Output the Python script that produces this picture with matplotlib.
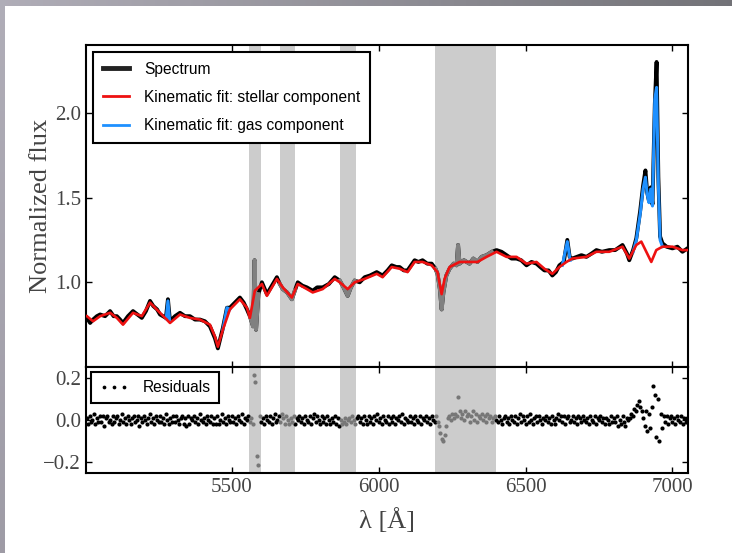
import numpy as np
import matplotlib.pyplot as plt
from matplotlib.lines import Line2D

plt.rcParams['font.family'] = 'Liberation Serif'
plt.rcParams['mathtext.fontset'] = 'stix'

# masked wavelength windows (sky lines, NaD, [OI])
mask_lo = [5557, 5663, 5867, 6193]
mask_hi = [5598, 5714, 5921, 6398]

# observed spectrum
spec_wave = [5006, 5017, 5027, 5040, 5051, 5068, 5085, 5097, 5108, 5119,
             5129, 5146, 5163, 5178, 5193, 5207, 5221, 5232, 5245, 5255,
             5275, 5282, 5289, 5306, 5323, 5340, 5357, 5374, 5391, 5408,
             5425, 5442, 5452, 5469, 5483, 5493, 5510, 5527, 5540, 5551,
             5561, 5572, 5577, 5582, 5590, 5602, 5619, 5636, 5653, 5663,
             5673, 5688, 5704, 5714, 5724, 5740, 5755, 5775, 5790, 5809,
             5830, 5850, 5867, 5880, 5894, 5905, 5918, 5935, 5952, 5970,
             5993, 6013, 6030, 6044, 6060, 6071, 6085, 6098, 6110, 6122,
             6135, 6149, 6165, 6180, 6193, 6200, 6208, 6214, 6220, 6230,
             6241, 6255, 6265, 6270, 6275, 6290, 6309, 6322, 6336, 6350,
             6367, 6385, 6401, 6418, 6435, 6452, 6469, 6485, 6503, 6520,
             6537, 6550, 6564, 6578, 6591, 6603, 6615, 6630, 6642, 6650,
             6659, 6675, 6690, 6707, 6725, 6741, 6760, 6785, 6805, 6830,
             6845, 6853, 6866, 6877, 6890, 6900, 6908, 6914, 6920, 6926,
             6932, 6940, 6946, 6952, 6958, 6966, 6980, 7000, 7017, 7034,
             7051]
spec_flux = [0.79, 0.76, 0.78, 0.80, 0.81, 0.80, 0.83, 0.80, 0.80, 0.78,
             0.76, 0.80, 0.83, 0.81, 0.79, 0.83, 0.89, 0.86, 0.84, 0.81,
             0.79, 0.90, 0.77, 0.80, 0.82, 0.80, 0.80, 0.78, 0.78, 0.77,
             0.74, 0.67, 0.61, 0.73, 0.85, 0.85, 0.88, 0.91, 0.88, 0.84,
             0.80, 0.74, 1.13, 0.72, 0.93, 1.00, 0.93, 0.98, 1.03, 0.99,
             0.96, 0.94, 0.90, 0.95, 1.00, 0.98, 0.97, 0.95, 0.97, 0.97,
             0.99, 1.03, 1.01, 0.97, 0.92, 0.97, 1.01, 1.00, 1.03, 1.04,
             1.06, 1.04, 1.07, 1.10, 1.09, 1.09, 1.07, 1.07, 1.10, 1.13,
             1.12, 1.13, 1.11, 1.11, 1.08, 1.05, 0.96, 0.84, 0.94, 1.04,
             1.08, 1.11, 1.10, 1.22, 1.11, 1.13, 1.11, 1.14, 1.12, 1.15,
             1.16, 1.18, 1.19, 1.18, 1.16, 1.14, 1.14, 1.13, 1.10, 1.12,
             1.11, 1.09, 1.07, 1.07, 1.04, 1.06, 1.10, 1.12, 1.25, 1.15,
             1.14, 1.15, 1.16, 1.15, 1.17, 1.19, 1.18, 1.19, 1.19, 1.22,
             1.17, 1.13, 1.19, 1.26, 1.42, 1.57, 1.66, 1.53, 1.48, 1.56,
             1.46, 2.05, 2.30, 1.62, 1.27, 1.23, 1.21, 1.20, 1.21, 1.18,
             1.20]

# stellar component of the fit
star_wave = [5006, 5027, 5051, 5085, 5108, 5129, 5163, 5193, 5221, 5255,
             5289, 5323, 5357, 5391, 5425, 5442, 5452, 5469, 5493, 5527,
             5551, 5561, 5578, 5602, 5619, 5653, 5673, 5704, 5724, 5755,
             5775, 5809, 5850, 5867, 5894, 5918, 5952, 5993, 6013, 6044,
             6071, 6098, 6122, 6149, 6180, 6200, 6214, 6224, 6241, 6275,
             6309, 6336, 6367, 6401, 6435, 6469, 6503, 6537, 6564, 6591,
             6615, 6639, 6659, 6707, 6741, 6785, 6830, 6853, 6877, 6894,
             6911, 6928, 6945, 6966, 7000, 7034, 7051]
star_flux = [0.80, 0.77, 0.80, 0.82, 0.79, 0.75, 0.82, 0.80, 0.88, 0.82,
             0.76, 0.81, 0.79, 0.78, 0.75, 0.68, 0.62, 0.72, 0.84, 0.90,
             0.85, 0.79, 0.95, 0.99, 0.92, 1.02, 0.97, 0.91, 0.99, 0.96,
             0.94, 0.96, 1.02, 1.00, 0.96, 1.00, 1.02, 1.05, 1.03, 1.09,
             1.08, 1.06, 1.12, 1.12, 1.10, 1.06, 0.93, 1.02, 1.09, 1.12,
             1.12, 1.12, 1.15, 1.18, 1.15, 1.15, 1.11, 1.12, 1.08, 1.05,
             1.09, 1.12, 1.14, 1.15, 1.18, 1.18, 1.21, 1.14, 1.22, 1.24,
             1.18, 1.12, 1.19, 1.21, 1.21, 1.19, 1.19]

# stellar + gas fit around the emission lines
gas_wave = [5276, 5282, 5288, np.nan,
            5469, 5483, 5493, np.nan,
            6625, 6642, 6652, np.nan,
            6866, 6877, 6890, 6900, 6908, 6914, 6920, 6926, 6932, 6940,
            6946, 6952, 6958, 6966]
gas_flux = [0.785, 0.89, 0.77, np.nan,
            0.72, 0.85, 0.84, np.nan,
            1.10, 1.24, 1.13, np.nan,
            1.18, 1.25, 1.40, 1.55, 1.62, 1.52, 1.47, 1.55, 1.45, 2.08,
            2.15, 1.58, 1.25, 1.21]

# residuals on a 5 A grid, 5005-7050 A (one row = 50 A)
res_wave = np.arange(5005, 7051, 5)
res_vals = [
    0.01, -0.02, 0.02, -0.01, 0.00, 0.03, -0.02, 0.01, -0.01, 0.02,
    -0.01, 0.02, -0.03, 0.01, 0.02, -0.01, 0.00, -0.02, 0.02, -0.01,
    0.01, 0.02, -0.02, 0.00, 0.03, -0.01, 0.01, -0.02, 0.02, 0.00,
    -0.02, 0.01, 0.02, -0.01, 0.00, 0.02, -0.03, 0.01, -0.01, 0.02,
    0.00, -0.02, 0.01, 0.03, -0.01, 0.01, -0.02, 0.02, 0.00, -0.01,
    0.02, -0.01, 0.01, -0.02, 0.03, 0.00, -0.02, 0.01, -0.01, 0.02,
    -0.01, 0.02, 0.00, -0.02, 0.01, 0.02, -0.02, 0.01, -0.03, 0.02,
    -0.02, 0.01, 0.00, 0.02, -0.01, 0.01, -0.02, 0.03, 0.00, -0.01,
    0.01, -0.02, 0.02, 0.00, -0.01, 0.02, -0.02, 0.01, -0.02, 0.02,
    -0.02, 0.00, 0.03, -0.01, 0.01, -0.02, 0.02, 0.00, -0.01, 0.02,
    -0.01, 0.01, -0.02, 0.02, 0.00, -0.01, 0.03, -0.02, 0.01, 0.00,
    0.02, -0.01, 0.01, -0.02, 0.21, 0.18, -0.17, -0.21, 0.02, -0.01,
    0.01, -0.02, 0.02, 0.00, -0.01, 0.02, -0.02, 0.01, 0.03, -0.01,
    0.00, 0.02, -0.01, 0.03, 0.01, -0.02, 0.02, 0.00, -0.02, 0.01,
    -0.01, 0.02, -0.02, 0.01, 0.00, 0.02, -0.01, 0.01, -0.02, 0.02,
    0.00, -0.01, 0.02, -0.02, 0.01, 0.03, -0.01, 0.02, 0.00, -0.02,
    0.02, -0.01, 0.01, -0.02, 0.02, 0.00, -0.02, 0.01, -0.01, 0.02,
    -0.02, 0.01, -0.03, 0.00, -0.02, -0.01, 0.01, -0.02, 0.00, 0.01,
    -0.01, 0.02, 0.00, -0.02, 0.01, 0.02, -0.01, 0.01, -0.02, 0.02,
    0.00, -0.02, 0.02, -0.01, 0.01, -0.02, 0.02, 0.00, 0.03, -0.01,
    0.01, -0.02, 0.02, 0.00, -0.01, 0.02, -0.02, 0.01, -0.01, 0.02,
    -0.02, 0.01, 0.00, 0.02, -0.01, 0.03, -0.02, 0.01, 0.00, -0.01,
    0.02, -0.01, 0.01, -0.02, 0.02, 0.00, -0.01, 0.02, -0.02, 0.01,
    0.00, 0.02, -0.01, 0.01, -0.02, 0.02, 0.00, -0.01, 0.02, -0.01,
    -0.03, -0.06, -0.09, -0.10, -0.07, -0.03, 0.01, 0.02, 0.00, 0.03,
    0.01, 0.03, 0.02, 0.11, 0.04, 0.01, 0.03, 0.00, 0.04, 0.02,
    0.03, -0.01, 0.02, 0.04, 0.00, 0.03, -0.01, 0.02, 0.01, 0.03,
    0.00, 0.02, -0.01, 0.03, 0.01, 0.02, -0.01, 0.01, 0.02, 0.00,
    -0.01, 0.02, 0.00, -0.02, 0.01, 0.02, -0.01, 0.01, -0.02, 0.02,
    0.00, -0.01, 0.02, -0.02, 0.01, 0.03, -0.01, 0.02, 0.00, -0.02,
    0.02, -0.01, 0.03, 0.00, -0.02, 0.01, 0.02, -0.01, 0.02, 0.00,
    -0.02, 0.01, 0.00, 0.02, -0.01, 0.01, -0.02, 0.02, 0.00, -0.02,
    0.01, 0.03, 0.00, 0.02, -0.01, 0.02, -0.02, 0.01, 0.02, -0.01,
    0.00, 0.02, -0.01, 0.01, -0.02, 0.02, 0.01, -0.01, 0.02, 0.00,
    -0.01, 0.01, -0.02, 0.02, 0.00, -0.01, 0.02, -0.02, 0.01, 0.00,
    0.02, -0.01, 0.01, -0.02, 0.01, 0.00, -0.02, 0.02, -0.01, 0.01,
    -0.01, 0.02, -0.03, 0.00, -0.02, 0.02, -0.01, -0.03, 0.01, 0.00,
    0.01, 0.03, 0.02, 0.05, 0.04, 0.07, 0.09, 0.06, 0.04, 0.01,
    -0.03, 0.04, -0.05, 0.03, -0.04, 0.06, 0.16, 0.12, -0.08, 0.10,
    -0.10, 0.03, -0.04, 0.02, -0.01, 0.02, -0.02, 0.01, 0.02, -0.01,
    0.01, -0.02, 0.02, 0.00, -0.01, 0.02, -0.02, 0.01, -0.01, 0.01]

xticks = [5500, 6000, 6500, 7000]
flux_ticks = [1.0, 1.5, 2.0]
res_ticks = [-0.2, 0.0, 0.2]


def in_mask(w):
    w = np.asarray(w, dtype=float)
    m = np.zeros(w.shape, dtype=bool)
    for lo, hi in zip(mask_lo, mask_hi):
        m |= (w >= lo) & (w <= hi)
    return m


fig = plt.figure(figsize=(7.32, 5.53), dpi=100)
ax = fig.add_axes([0.1175, 0.3363, 0.8224, 0.5823])
axr = fig.add_axes([0.1175, 0.1447, 0.8224, 0.1917], sharex=ax)

for a in (ax, axr):
    for lo, hi in zip(mask_lo, mask_hi):
        a.axvspan(lo, hi, color='#cccccc', lw=0, zorder=0)

# spectrum, masked parts drawn in grey on top
sw = np.array(spec_wave, dtype=float)
sf = np.array(spec_flux, dtype=float)
ax.plot(sw, sf, color='black', lw=2.8, zorder=2)
msk = in_mask(sw)
ax.plot(sw, np.where(msk, sf, np.nan), color='#808080', lw=2.8, zorder=2.1)

ax.plot(gas_wave, gas_flux, color='#1e90ff', lw=2.2, zorder=3)
ax.plot(star_wave, star_flux, color='#ee1111', lw=1.9, zorder=4)

ax.set_xlim(5003, 7053)
ax.set_ylim(0.5, 2.4)
ax.set_yticks(flux_ticks)
ax.set_ylabel('Normalized flux', fontsize=19, color='#444444', labelpad=2)
plt.setp(ax.get_xticklabels(), visible=False)

handles = [Line2D([], [], color='#222222', lw=3.5),
           Line2D([], [], color='#ee1111', lw=2),
           Line2D([], [], color='#1e90ff', lw=2)]
labels = ['Spectrum', 'Kinematic fit: stellar component',
          'Kinematic fit: gas component']
leg = ax.legend(handles, labels, loc='upper left', fancybox=False,
                edgecolor='black', framealpha=1, handlelength=1.7,
                handletextpad=0.95, labelspacing=0.85, borderpad=0.62,
                borderaxespad=0.45,
                prop={'family': 'Liberation Sans', 'size': 11.2})
leg.get_frame().set_linewidth(1.5)

# residuals
rv = np.array(res_vals)
rm = in_mask(res_wave)
axr.plot(res_wave[~rm], rv[~rm], 'o', color='black', ms=3.0, mew=0,
         zorder=2, label='Residuals')
axr.plot(res_wave[rm], rv[rm], 'o', color='#777777', ms=3.0, mew=0,
         zorder=2)
axr.set_ylim(-0.25, 0.25)
axr.set_yticks(res_ticks)
axr.set_xticks(xticks)
axr.set_xlabel('λ [Å]', fontsize=19, color='#444444', labelpad=8)
rleg = axr.legend(loc='upper left', numpoints=3, fancybox=False,
                  edgecolor='black', framealpha=1, handlelength=1.9,
                  handletextpad=0.9, borderpad=0.5, borderaxespad=0.35,
                  markerscale=0.9,
                  prop={'family': 'Liberation Sans', 'size': 11.2})
rleg.get_frame().set_linewidth(1.5)

for a in (ax, axr):
    a.tick_params(direction='in', top=True, right=True, length=4, width=1,
                  labelsize=15, labelcolor='#444444')
    for s in a.spines.values():
        s.set_linewidth(1.5)

# grey frame along the top and left edges
top = fig.add_axes([0, 1 - 6 / 553, 1, 6 / 553])
grad = np.linspace(0, 1, 256)
c0 = np.array([0.69, 0.68, 0.72])
c1 = np.array([0.45, 0.45, 0.47])
top.imshow((c0 + (c1 - c0) * grad[:, None])[None, :, :], aspect='auto')
top.axis('off')
left = fig.add_axes([0, 0, 5 / 732, 1 - 6 / 553])
c2 = np.array([0.62, 0.61, 0.65])
left.imshow((c0 + (c2 - c0) * grad[:, None])[:, None, :], aspect='auto')
left.axis('off')

fig.savefig('out.png', dpi=100)
